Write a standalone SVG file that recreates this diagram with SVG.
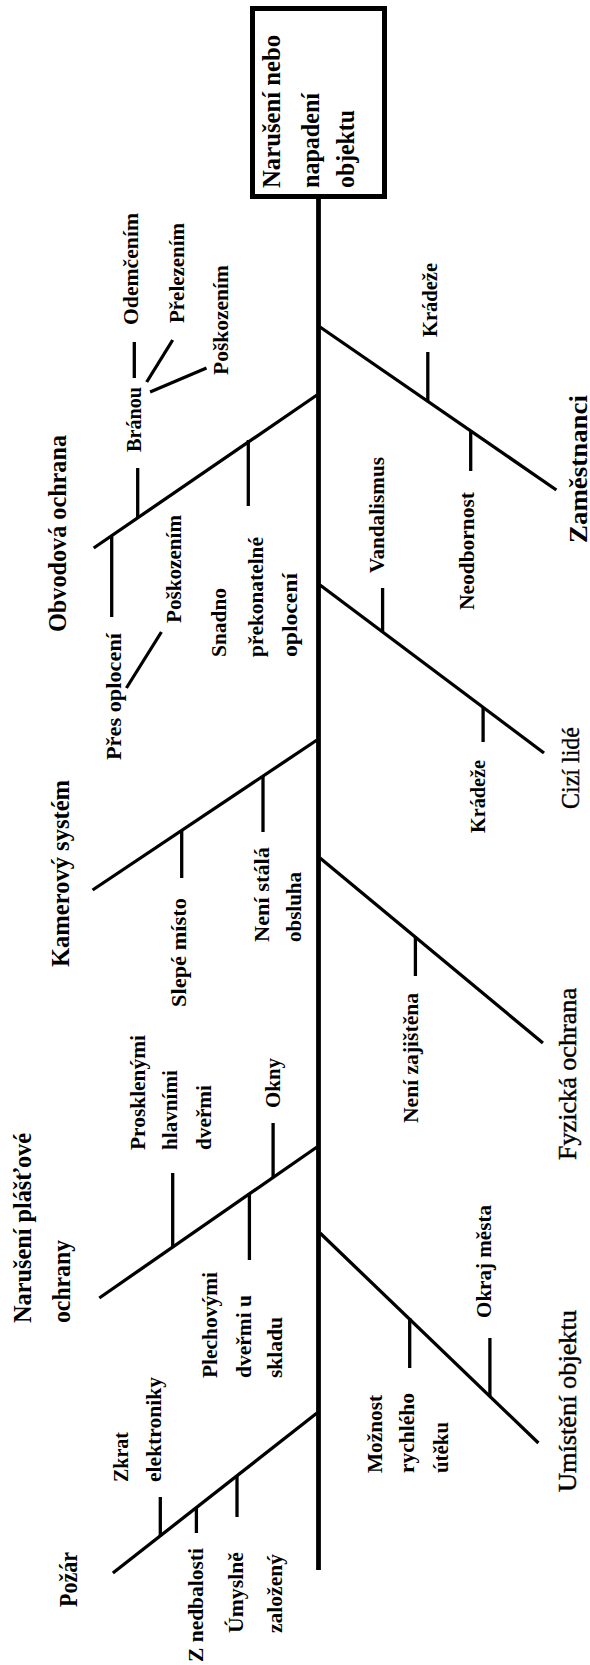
<svg xmlns="http://www.w3.org/2000/svg" width="590" height="1665" viewBox="0 0 590 1665">
<style>
text{font-family:"Liberation Serif","Times New Roman",serif;font-weight:bold;fill:#000;font-size:21.5px}
text.big{font-size:25px}
text.box{font-size:25px}
text.reg{font-weight:normal;stroke:#000;stroke-width:0.4}
line{stroke:#000;stroke-width:3.3;stroke-linecap:butt}
line.spine{stroke-width:4.8}
</style>
<rect width="590" height="1665" fill="#fff"/>
<g id="effect">
<rect x="252.5" y="8.5" width="132" height="188" fill="#fff" stroke="#000" stroke-width="5"/>
<text class="box" transform="translate(280,188) rotate(-90)" textLength="153" lengthAdjust="spacingAndGlyphs">Narušení nebo</text>
<text class="box" transform="translate(318.5,188) rotate(-90)" textLength="95" lengthAdjust="spacingAndGlyphs">napadení</text>
<text class="box" transform="translate(353.5,188) rotate(-90)" textLength="78" lengthAdjust="spacingAndGlyphs">objektu</text>
</g>
<g id="connectors">
<line class="spine" x1="318.5" y1="199" x2="318.5" y2="1570"/>
<line x1="317" y1="395" x2="93.7" y2="548"/>
<line x1="320" y1="327" x2="556.4" y2="490"/>
<line x1="320" y1="585" x2="544" y2="753"/>
<line x1="317" y1="740" x2="92.6" y2="890"/>
<line x1="320" y1="858" x2="542.9" y2="1043"/>
<line x1="317" y1="1147" x2="99.3" y2="1298"/>
<line x1="320" y1="1233" x2="538.4" y2="1443"/>
<line x1="317" y1="1413" x2="112.9" y2="1573"/>
<line x1="137.7" y1="468" x2="137.7" y2="518"/>
<line x1="134.3" y1="342" x2="134.3" y2="378"/>
<line x1="146.7" y1="382" x2="172.7" y2="340"/>
<line x1="150.1" y1="392" x2="206.5" y2="368"/>
<line x1="248.3" y1="440" x2="248.3" y2="506"/>
<line x1="111.7" y1="536" x2="111.7" y2="617"/>
<line x1="126.4" y1="688" x2="161.4" y2="632"/>
<line x1="427.8" y1="352" x2="427.8" y2="401"/>
<line x1="470.7" y1="430" x2="470.7" y2="471"/>
<line x1="382.6" y1="588" x2="382.6" y2="631"/>
<line x1="483.1" y1="707" x2="483.1" y2="742"/>
<line x1="263" y1="776" x2="263" y2="832"/>
<line x1="181.7" y1="830" x2="181.7" y2="878"/>
<line x1="415.4" y1="936" x2="415.4" y2="976"/>
<line x1="273.1" y1="1123" x2="273.1" y2="1177"/>
<line x1="172.7" y1="1173" x2="172.7" y2="1247"/>
<line x1="249.4" y1="1193" x2="249.4" y2="1260"/>
<line x1="409.7" y1="1318" x2="409.7" y2="1368"/>
<line x1="489.9" y1="1338" x2="489.9" y2="1396"/>
<line x1="160.3" y1="1497" x2="160.3" y2="1536"/>
<line x1="196.4" y1="1507" x2="196.4" y2="1533"/>
<line x1="237" y1="1475" x2="237" y2="1517"/>
</g>
<g id="obvodova">
<text class="big" transform="translate(65.5,632) rotate(-90)" textLength="197" lengthAdjust="spacingAndGlyphs">Obvodová ochrana</text>
<text transform="translate(141,452) rotate(-90)" textLength="65" lengthAdjust="spacingAndGlyphs">Bránou</text>
<text transform="translate(137.7,325) rotate(-90)" textLength="112" lengthAdjust="spacingAndGlyphs">Odemčením</text>
<text transform="translate(184,323) rotate(-90)" textLength="100" lengthAdjust="spacingAndGlyphs">Přelezením</text>
<text transform="translate(228,375) rotate(-90)" textLength="110" lengthAdjust="spacingAndGlyphs">Poškozením</text>
<text transform="translate(120.8,760) rotate(-90)" textLength="127" lengthAdjust="spacingAndGlyphs">Přes oplocení</text>
<text transform="translate(180.6,623) rotate(-90)" textLength="108" lengthAdjust="spacingAndGlyphs">Poškozením</text>
<text transform="translate(225.7,657) rotate(-90)" textLength="69" lengthAdjust="spacingAndGlyphs">Snadno</text>
<text transform="translate(263,657) rotate(-90)" textLength="120" lengthAdjust="spacingAndGlyphs">překonatelné</text>
<text transform="translate(296.8,657) rotate(-90)" textLength="84" lengthAdjust="spacingAndGlyphs">oplocení</text>
</g>
<g id="zamestnanci">
<text class="big" transform="translate(587,543) rotate(-90)" textLength="148" lengthAdjust="spacingAndGlyphs">Zaměstnanci</text>
<text transform="translate(436.8,337) rotate(-90)" textLength="74" lengthAdjust="spacingAndGlyphs">Krádeže</text>
<text transform="translate(474,610) rotate(-90)" textLength="118" lengthAdjust="spacingAndGlyphs">Neodbornost</text>
</g>
<g id="cizi">
<text class="big reg" transform="translate(579,809) rotate(-90)" textLength="82" lengthAdjust="spacingAndGlyphs">Cizí lidé</text>
<text transform="translate(383.8,573) rotate(-90)" textLength="116" lengthAdjust="spacingAndGlyphs">Vandalismus</text>
<text transform="translate(485.3,833) rotate(-90)" textLength="73" lengthAdjust="spacingAndGlyphs">Krádeže</text>
</g>
<g id="kamerovy">
<text class="big" transform="translate(68.9,967) rotate(-90)" textLength="187" lengthAdjust="spacingAndGlyphs">Kamerový systém</text>
<text transform="translate(186.2,1007) rotate(-90)" textLength="109" lengthAdjust="spacingAndGlyphs">Slepé místo</text>
<text transform="translate(268.6,942) rotate(-90)" textLength="95" lengthAdjust="spacingAndGlyphs">Není stálá</text>
<text transform="translate(301.4,942) rotate(-90)" textLength="70" lengthAdjust="spacingAndGlyphs">obsluha</text>
</g>
<g id="fyzicka">
<text class="big reg" transform="translate(576,1160) rotate(-90)" textLength="172" lengthAdjust="spacingAndGlyphs">Fyzická ochrana</text>
<text transform="translate(417.6,1123) rotate(-90)" textLength="130" lengthAdjust="spacingAndGlyphs">Není zajištěna</text>
</g>
<g id="plastove">
<text class="big" transform="translate(30.5,1323) rotate(-90)" textLength="190" lengthAdjust="spacingAndGlyphs">Narušení plášťové</text>
<text class="big" transform="translate(70,1323) rotate(-90)" textLength="83" lengthAdjust="spacingAndGlyphs">ochrany</text>
<text transform="translate(280,1108) rotate(-90)" textLength="50" lengthAdjust="spacingAndGlyphs">Okny</text>
<text transform="translate(144.5,1150) rotate(-90)" textLength="115" lengthAdjust="spacingAndGlyphs">Prosklenými</text>
<text transform="translate(177.2,1150) rotate(-90)" textLength="80" lengthAdjust="spacingAndGlyphs">hlavními</text>
<text transform="translate(211.1,1150) rotate(-90)" textLength="65" lengthAdjust="spacingAndGlyphs">dveřmi</text>
<text transform="translate(216.7,1378) rotate(-90)" textLength="106" lengthAdjust="spacingAndGlyphs">Plechovými</text>
<text transform="translate(250.6,1378) rotate(-90)" textLength="83" lengthAdjust="spacingAndGlyphs">dveřmi u</text>
<text transform="translate(282.2,1378) rotate(-90)" textLength="61" lengthAdjust="spacingAndGlyphs">skladu</text>
</g>
<g id="umisteni">
<text class="big reg" transform="translate(575.6,1492) rotate(-90)" textLength="182" lengthAdjust="spacingAndGlyphs">Umístění objektu</text>
<text transform="translate(491,1318) rotate(-90)" textLength="113" lengthAdjust="spacingAndGlyphs">Okraj města</text>
<text transform="translate(381.5,1473) rotate(-90)" textLength="78" lengthAdjust="spacingAndGlyphs">Možnost</text>
<text transform="translate(414.2,1473) rotate(-90)" textLength="80" lengthAdjust="spacingAndGlyphs">rychlého</text>
<text transform="translate(448.1,1473) rotate(-90)" textLength="51" lengthAdjust="spacingAndGlyphs">útěku</text>
</g>
<g id="pozar">
<text class="big" transform="translate(76.7,1607) rotate(-90)" textLength="55" lengthAdjust="spacingAndGlyphs">Požár</text>
<text transform="translate(127.5,1482) rotate(-90)" textLength="50" lengthAdjust="spacingAndGlyphs">Zkrat</text>
<text transform="translate(161.4,1482) rotate(-90)" textLength="105" lengthAdjust="spacingAndGlyphs">elektroniky</text>
<text transform="translate(203.2,1662) rotate(-90)" textLength="114" lengthAdjust="spacingAndGlyphs">Z nedbalosti</text>
<text transform="translate(242.7,1633) rotate(-90)" textLength="81" lengthAdjust="spacingAndGlyphs">Úmyslně</text>
<text transform="translate(282.2,1633) rotate(-90)" textLength="79" lengthAdjust="spacingAndGlyphs">založený</text>
</g>
</svg>
